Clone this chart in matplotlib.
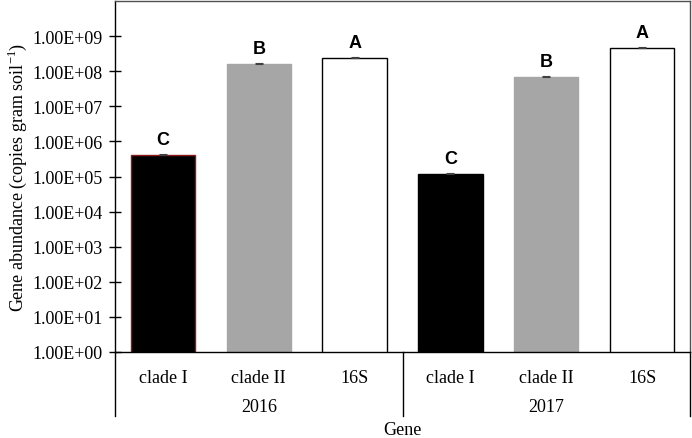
import matplotlib
matplotlib.use("Agg")
import matplotlib.pyplot as plt
import numpy as np

years = ["2016", "2017"]
genes = ["clade I", "clade II", "16S"]
values = [4.2e5, 1.65e8, 2.45e8, 1.15e5, 6.8e7, 4.7e8]
errors = [2.5e4, 5e6, 1.0e7, 1.5e4, 7e6, 1.5e7]
letters = ["C", "B", "A", "C", "B", "A"]
ytick_labels = ["1.00E+00", "1.00E+01", "1.00E+02", "1.00E+03", "1.00E+04",
                "1.00E+05", "1.00E+06", "1.00E+07", "1.00E+08", "1.00E+09"]

faces = ["black", "#a6a6a6", "white"] * 2
edges = ["#8b1a1a", "#a6a6a6", "black", "black", "#a6a6a6", "black"]

serif = "Liberation Serif"
fs = 13

fig = plt.figure(figsize=(6.92, 4.39), dpi=100)
ax = fig.add_axes([115/692, 1 - 353/439, (690-115)/692, 351/439])

x = np.arange(len(values))
ax.bar(x, values, width=0.67, color=faces, edgecolor=edges, linewidth=1.0, zorder=2)
ax.errorbar(x, values, yerr=[np.zeros(len(errors)), errors], fmt="none",
            ecolor="#404040", elinewidth=0.8, capsize=3, capthick=0.8, zorder=3)
for xi, v, l in zip(x, values, letters):
    ax.annotate(l, (xi, v), xytext=(0, 5), textcoords="offset points",
                ha="center", va="bottom", fontsize=fs, fontweight="bold",
                family="Liberation Sans")

ax.set_yscale("log")
ax.set_ylim(1, 1e10)
ax.set_xlim(-0.5, len(values) - 0.5)
ax.set_yticks([10.0**i for i in range(10)])
ax.set_yticklabels(ytick_labels, family=serif, fontsize=fs)
ax.minorticks_off()
ax.tick_params(axis="y", direction="inout", length=8, width=1.0, pad=5)
ax.set_xticks(x)
ax.set_xticklabels(genes * 2, family=serif, fontsize=fs)
ax.tick_params(axis="x", length=0, pad=12)

for s in ["top", "right"]:
    ax.spines[s].set_color("#505050")
    ax.spines[s].set_linewidth(1.0)
for s in ["left", "bottom"]:
    ax.spines[s].set_color("black")
    ax.spines[s].set_linewidth(1.0)

trans = ax.get_xaxis_transform()
for xs in [-0.5, 2.5, 5.5]:
    ax.plot([xs, xs], [0, -0.182], color="black", lw=1.0, transform=trans, clip_on=False)
for i, yr in enumerate(years):
    ax.text(1 + 3 * i, -0.155, yr, transform=trans, ha="center", va="center",
            family=serif, fontsize=fs)
ax.text(0.5, -0.222, "Gene", transform=ax.transAxes, ha="center", va="center",
        family=serif, fontsize=fs)
ax.set_ylabel("Gene abundance (copies gram soil$^{\\mathregular{-1}}$)",
              family=serif, fontsize=fs, labelpad=2)

fig.savefig("out.png", dpi=100)
